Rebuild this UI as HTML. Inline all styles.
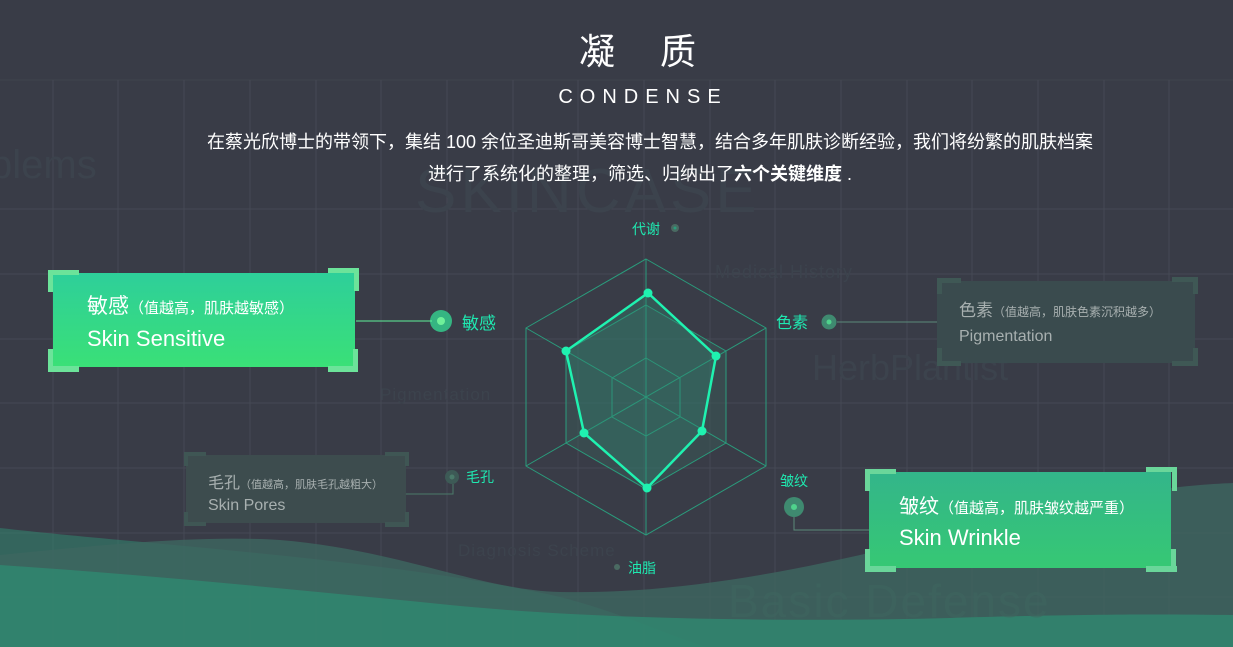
<!DOCTYPE html>
<html><head><meta charset="utf-8"><style>
html,body{margin:0;padding:0;background:#393c47;}
body{width:1233px;height:647px;overflow:hidden;position:relative;font-family:"Liberation Sans","Noto Sans CJK SC",sans-serif;}
svg{position:absolute;left:0;top:0}
.t{font-family:"Liberation Sans","Noto Sans CJK SC",sans-serif;}
</style></head><body>
<svg width="1233" height="647" viewBox="0 0 1233 647">
<defs>
<linearGradient id="g1" x1="0" y1="0" x2="0" y2="1"><stop offset="0" stop-color="#2ecf9a"/><stop offset="1" stop-color="#3ae077"/></linearGradient>
<linearGradient id="g2" x1="0" y1="0" x2="0" y2="1"><stop offset="0" stop-color="#33b58a"/><stop offset="1" stop-color="#36c874"/></linearGradient>
</defs>
<g stroke="#454954" stroke-width="1">
<line x1="0" y1="80" x2="1233" y2="80" stroke="#40444e"/>
<line x1="0" y1="209" x2="1233" y2="209"/>
<line x1="0" y1="274" x2="1233" y2="274"/>
<line x1="0" y1="339" x2="1233" y2="339"/>
<line x1="0" y1="403" x2="1233" y2="403"/>
<line x1="0" y1="468" x2="1233" y2="468"/>
<line x1="0" y1="533" x2="1233" y2="533"/>
<line x1="0" y1="597" x2="1233" y2="597"/>
<line x1="53" y1="80" x2="53" y2="647"/><line x1="118" y1="80" x2="118" y2="647"/><line x1="184" y1="80" x2="184" y2="647"/><line x1="250" y1="80" x2="250" y2="647"/><line x1="316" y1="80" x2="316" y2="647"/><line x1="381" y1="80" x2="381" y2="647"/><line x1="447" y1="80" x2="447" y2="647"/><line x1="513" y1="80" x2="513" y2="647"/><line x1="578" y1="80" x2="578" y2="647"/><line x1="644" y1="80" x2="644" y2="647"/><line x1="710" y1="80" x2="710" y2="647"/><line x1="775" y1="80" x2="775" y2="647"/><line x1="841" y1="80" x2="841" y2="647"/><line x1="907" y1="80" x2="907" y2="647"/><line x1="972" y1="80" x2="972" y2="647"/><line x1="1038" y1="80" x2="1038" y2="647"/><line x1="1104" y1="80" x2="1104" y2="647"/><line x1="1169" y1="80" x2="1169" y2="647"/>
</g>
<g fill="#3c434d" class="t">
<text x="415" y="212" font-size="62" letter-spacing="4">SKINCASE</text>
<text x="-10" y="178" font-size="40">blems</text>
<text x="715" y="278" font-size="18" letter-spacing="1">Medical History</text>
<text x="812" y="380" font-size="36">HerbPlantist</text>
<text x="380" y="400" font-size="17" letter-spacing="1">Pigmentation</text>
<text x="458" y="556" font-size="17" letter-spacing="1">Diagnosis Scheme</text>
</g>
<path d="M0 528 C150 545 400 560 560 597 C620 612 680 640 707 647 L0 647Z" fill="#2f8e74" opacity="0.5"/>
<path d="M0 555 C100 545 200 535 280 540 C400 550 480 590 560 592 C700 595 850 560 1000 520 C1100 495 1180 485 1233 483 L1233 647 L0 647Z" fill="#3d6660" opacity="0.8"/>
<path d="M0 565 C150 575 300 590 450 605 C600 620 800 622 950 618 C1080 614 1160 614 1233 615 L1233 647 L0 647Z" fill="#2f8c72" opacity="0.75"/>
<text x="728" y="617" font-size="46" fill="#3f665f" class="t" letter-spacing="2" opacity="0.6">Basic Defense</text>
<text x="579" y="64" font-size="36" fill="#fff" class="t">凝</text>
<text x="660" y="64" font-size="36" fill="#fff" class="t">质</text>
<text x="643" y="103" font-size="20" fill="#fff" text-anchor="middle" class="t" letter-spacing="7">CONDENSE</text>
<text x="650" y="148" font-size="18" fill="#fff" text-anchor="middle" class="t">在蔡光欣博士的带领下，集结 100 余位圣迪斯哥美容博士智慧，结合多年肌肤诊断经验，我们将纷繁的肌肤档案</text>
<text x="640" y="180" font-size="18" fill="#fff" text-anchor="middle" class="t">进行了系统化的整理，筛选、归纳出了<tspan font-weight="bold">六个关键维度</tspan> .</text>
<g fill="none" stroke="#2a9c7c" stroke-width="1">
<polygon points="646,259 766,328 766,466 646,535 526,466 526,328"/>
<polygon points="646,305 726,351 726,443 646,489 566,443 566,351" fill="#3a5a58" fill-opacity="0.5"/>
<polygon points="646,358 680,378 680,417 646,436 612,417 612,378"/>
<line x1="646" y1="259" x2="646" y2="535"/>
<line x1="526" y1="328" x2="766" y2="466"/>
<line x1="766" y1="328" x2="526" y2="466"/>
</g>
<polygon points="648,293 716,356 702,431 647,488 584,433 566,351" fill="#2e8a74" fill-opacity="0.35" stroke="#1ff2b0" stroke-width="2.5"/>
<g fill="#1ff2b0"><circle cx="648" cy="293" r="4.5"/><circle cx="716" cy="356" r="4.5"/><circle cx="702" cy="431" r="4.5"/><circle cx="647" cy="488" r="4.5"/><circle cx="584" cy="433" r="4.5"/><circle cx="566" cy="351" r="4.5"/></g>
<g class="t" fill="#1fe8b0" font-size="14">
<text x="632" y="234">代谢</text>
<text x="776" y="328" font-size="16">色素</text>
<text x="780" y="486">皱纹</text>
<text x="628" y="573">油脂</text>
<text x="466" y="482">毛孔</text>
<text x="462" y="329" font-size="17">敏感</text>
</g>
<circle cx="675" cy="228" r="4" fill="#4a6a62"/><circle cx="675" cy="228" r="1.5" fill="#2a9c7c"/>
<circle cx="829" cy="322" r="7.5" fill="#3f8a70"/><circle cx="829" cy="322" r="2.5" fill="#4fd28c"/>
<circle cx="794" cy="507" r="10" fill="#3f8a70"/><circle cx="794" cy="507" r="3" fill="#4fd28c"/>
<circle cx="617" cy="567" r="3" fill="#4a6a62"/>
<circle cx="452" cy="477" r="7" fill="#3d5a56"/><circle cx="452" cy="477" r="2.5" fill="#4a7a6a"/>
<circle cx="441" cy="321" r="11" fill="#35b582"/><circle cx="441" cy="321" r="4" fill="#6ff09a"/>
<line x1="356" y1="321" x2="432" y2="321" stroke="#5ff29a" stroke-width="1"/>
<line x1="837" y1="322" x2="937" y2="322" stroke="#5a8a7a" stroke-width="1"/>
<polyline points="794,517 794,530 870,530" fill="none" stroke="#5a8a7a"/>
<polyline points="405,494 453,494 453,484" fill="none" stroke="#4a7a6a"/>
<rect x="53" y="273" width="302" height="94" fill="url(#g1)"/>
<g fill="#6ce39a">
<rect x="48" y="270" width="31" height="5"/><rect x="48" y="270" width="5" height="22"/>
<rect x="328" y="268" width="31" height="5"/><rect x="354" y="268" width="5" height="23"/>
<rect x="48" y="366" width="31" height="6"/><rect x="48" y="349" width="5" height="23"/>
<rect x="328" y="366" width="30" height="6"/><rect x="353" y="349" width="5" height="23"/>
</g>
<text x="87" y="313" font-size="21" fill="#fff" class="t">敏感<tspan font-size="15">（值越高，肌肤越敏感）</tspan></text>
<text x="87" y="346" font-size="22" fill="#fff" class="t">Skin Sensitive</text>
<rect x="937" y="281" width="258" height="82" fill="#3a4c4f" opacity="0.95"/>
<g fill="#3f5855">
<rect x="937" y="278" width="24" height="5"/><rect x="937" y="278" width="5" height="16"/><rect x="1172" y="277" width="26" height="5"/><rect x="1193" y="277" width="5" height="17"/>
<rect x="937" y="361" width="24" height="5"/><rect x="937" y="348" width="5" height="17"/><rect x="1172" y="361" width="26" height="5"/><rect x="1193" y="348" width="5" height="17"/>
</g>
<text x="959" y="316" font-size="17" fill="#a8b0b0" class="t">色素<tspan font-size="12">（值越高，肌肤色素沉积越多）</tspan></text>
<text x="959" y="341" font-size="16" fill="#a8b0b0" class="t">Pigmentation</text>
<rect x="186" y="455" width="220" height="68" fill="#3d4d4f" opacity="0.95"/>
<g fill="#3f5654">
<rect x="184" y="452" width="22" height="4"/><rect x="184" y="452" width="4" height="14"/><rect x="385" y="452" width="24" height="4"/><rect x="405" y="452" width="4" height="14"/>
<rect x="184" y="522" width="22" height="4"/><rect x="184" y="512" width="4" height="14"/><rect x="385" y="522" width="24" height="5"/><rect x="405" y="512" width="4" height="15"/>
</g>
<text x="208" y="488" font-size="16" fill="#a8b0b0" class="t">毛孔<tspan font-size="11">（值越高，肌肤毛孔越粗大）</tspan></text>
<text x="208" y="510" font-size="16" fill="#a8b0b0" class="t">Skin Pores</text>
<rect x="869" y="472" width="302" height="96" fill="url(#g2)"/>
<g fill="#6ad69a">
<rect x="865" y="469" width="31" height="5"/><rect x="865" y="469" width="5" height="22"/>
<rect x="1146" y="467" width="31" height="5"/><rect x="1172" y="467" width="5" height="24"/>
<rect x="865" y="566" width="31" height="6"/><rect x="865" y="549" width="5" height="23"/>
<rect x="1146" y="566" width="31" height="6"/><rect x="1171" y="549" width="5" height="23"/>
</g>
<text x="899" y="513" font-size="20" fill="#fff" class="t">皱纹<tspan font-size="15">（值越高，肌肤皱纹越严重）</tspan></text>
<text x="899" y="545" font-size="22" fill="#fff" class="t">Skin Wrinkle</text>
</svg>
</body></html>
